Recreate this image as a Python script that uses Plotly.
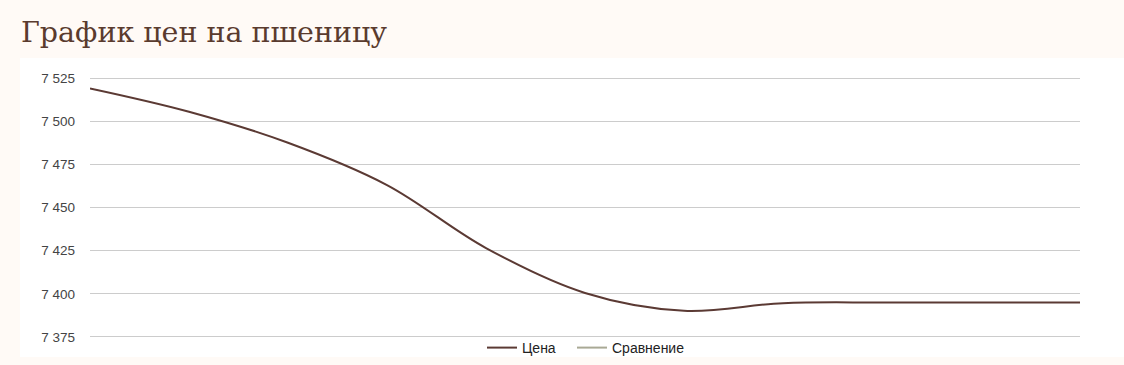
import plotly.graph_objects as go

# Data
points = list(range(11))
price = [7519, 7505.5, 7487.5, 7463, 7426.5, 7400.5, 7390.2, 7394.6, 7395, 7395, 7395]
comparison = [None] * 11
y_ticks = [7375, 7400, 7425, 7450, 7475, 7500, 7525]

W, H = 1124, 365
L, R, T, B = 90, 1080, 77, 338
pw, ph = R - L, B - T

def px_x(x):
    return (x - L) / pw

def px_y(y):
    return (B - y) / ph

fig = go.Figure()
fig.add_trace(go.Scatter(x=points, y=price, mode="lines", name="Цена", legend="legend",
                         line=dict(color="#5b3a34", width=2, shape="spline", smoothing=1)))
fig.add_trace(go.Scatter(x=points, y=comparison, mode="lines", name="Сравнение", legend="legend2",
                         line=dict(color="#a9a995", width=2)))

leg_common = dict(orientation="h", xanchor="left", y=px_y(348), yanchor="middle",
                  font=dict(size=14, color="#222"), bgcolor="rgba(0,0,0,0)",
                  itemwidth=30, tracegroupgap=0)

fig.update_layout(
    width=W, height=H,
    margin=dict(l=L, r=W - R, t=T, b=H - B, pad=0, autoexpand=False),
    paper_bgcolor="#fffaf6",
    plot_bgcolor="rgba(0,0,0,0)",
    separators=". ",
    font=dict(family="Liberation Sans, Arial, sans-serif", size=13, color="#444"),
    showlegend=True,
    legend=dict(x=px_x(482), **leg_common),
    legend2=dict(x=px_x(572), **leg_common),
    xaxis=dict(range=[0, 10], showgrid=False, showticklabels=False, zeroline=False,
               showline=False, ticks=""),
    yaxis=dict(range=[7374.4, 7525.6], tickvals=y_ticks, tickformat=",d",
               showgrid=True, gridcolor="#cccccc", gridwidth=1, zeroline=False,
               showline=False, ticks="", ticklabelstandoff=14,
               tickfont=dict(size=13.5, color="#444")),
    shapes=[dict(type="rect", xref="paper", yref="paper", layer="below",
                 x0=px_x(20), x1=px_x(1124), y0=px_y(357), y1=px_y(58),
                 fillcolor="#ffffff", line=dict(width=0))],
    annotations=[dict(text="График цен на пшеницу", xref="paper", yref="paper",
                      x=px_x(19), y=px_y(33), xanchor="left", yanchor="middle",
                      showarrow=False,
                      font=dict(family="DejaVu Serif, serif", size=28.5, color="#5a3b2e"))],
)

fig.write_html("out.html")
